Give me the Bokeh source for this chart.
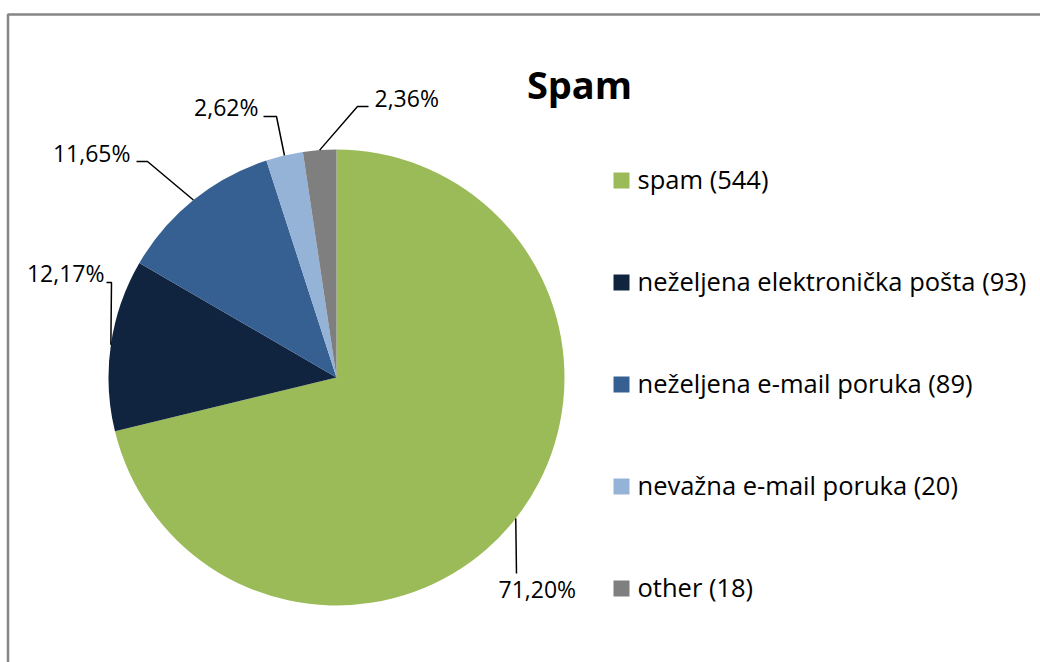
import math
from bokeh.plotting import figure
from bokeh.models import Range1d, ColumnDataSource
from bokeh.core.properties import value
from bokeh.embed import file_html
from bokeh.resources import INLINE

# ---- data ----
title = "Spam"
categories = ["spam", "neželjena elektronička pošta", "neželjena e-mail poruka",
              "nevažna e-mail poruka", "other"]
counts = [544, 93, 89, 20, 18]
colors = ["#9BBB59", "#10243F", "#376092", "#95B3D7", "#7F7F7F"]

# ---- layout (page pixel coordinates) ----
W, H = 1040, 662
CX, CY, R = 336, 377, 228
FONT = "Open Sans"

def Y(v):
    return -v

p = figure(width=W, height=H, output_backend="svg", toolbar_location=None,
           x_range=Range1d(0, W), y_range=Range1d(-H, 0),
           min_border=0, outline_line_color=None, background_fill_color="white",
           border_fill_color="white")
p.xaxis.visible = False
p.yaxis.visible = False
p.grid.visible = False

# chart border (top and left visible)
p.line(x=[7.5, 7.5, W], y=[Y(H), Y(14), Y(14)], line_color="#868686", line_width=2.5)

total = sum(counts)
fracs = [c / total for c in counts]
starts, ends, mids = [], [], []
cum = 0.0
for f in fracs:
    starts.append(math.pi / 2 - 2 * math.pi * cum)
    mids.append(cum + f / 2)
    cum += f
    ends.append(math.pi / 2 - 2 * math.pi * cum)

src = ColumnDataSource(dict(x=[CX] * len(counts), y=[Y(CY)] * len(counts),
                            start=starts, end=ends, color=colors))
p.wedge(x="x", y="y", radius=R, radius_units="screen", start_angle="start",
        end_angle="end", direction="clock", fill_color="color", line_color=None,
        source=src)

# data labels with leader lines
pct_labels = [f"{f * 100:.2f}%".replace(".", ",") for f in fracs]
# (text x, text y, align, elbow point, end point) per slice
label_layout = [
    (498, 588, "left", (516, 573), (516, 573)),
    (104, 272, "right", (111, 282), (106, 282)),
    (130, 152, "right", (147, 161), (136, 161)),
    (258, 106, "right", (276, 116), (263, 116)),
    (374, 97, "left", (357, 106), (368, 106)),
]
for m, lab, (tx, ty, al, el, en) in zip(mids, pct_labels, label_layout):
    ang = 2 * math.pi * m
    sx = CX + R * math.sin(ang)
    sy = CY - R * math.cos(ang)
    p.line(x=[sx, el[0], en[0]], y=[Y(sy), Y(el[1]), Y(en[1])], line_color="black",
           line_width=1.5)
    p.text(x=[tx], y=[Y(ty)], text=[lab], text_align=al, text_baseline="middle",
           text_font=value(FONT), text_font_size="23px", text_color="black")

# title
p.text(x=[579], y=[Y(83)], text=[title], text_align="center", text_baseline="middle",
       text_font=value(FONT), text_font_size="38px", text_font_style="bold",
       text_color="black")

# legend
leg_x, leg_y0, leg_dy = 621, 180, 102
leg_texts = [f"{c} ({n})" for c, n in zip(categories, counts)]
for i, (t, col) in enumerate(zip(leg_texts, colors)):
    yy = leg_y0 + i * leg_dy
    p.scatter(x=[leg_x], y=[Y(yy)], marker="square", size=16, fill_color=col,
              line_color=None)
    p.text(x=[leg_x + 16], y=[Y(yy - 2)], text=[t], text_align="left",
           text_baseline="middle", text_font=value(FONT), text_font_size="25.5px",
           text_color="black")

open("out.html", "w").write(file_html(p, INLINE))
